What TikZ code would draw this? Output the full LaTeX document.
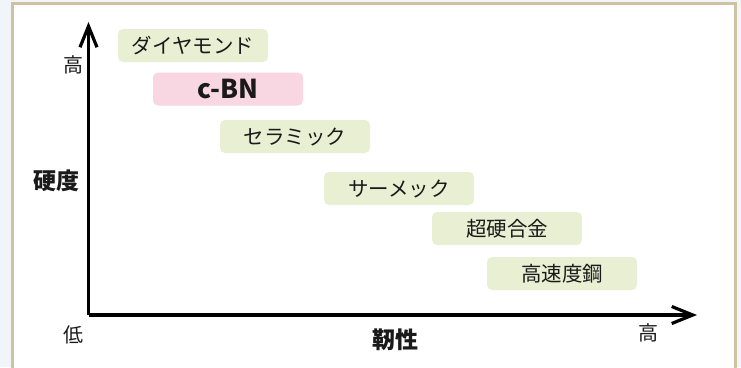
\documentclass[tikz,border=0pt]{standalone}
\usepackage{fontspec}
\setmainfont{Noto Sans CJK JP}
\usetikzlibrary{arrows.meta}
\definecolor{bgout}{HTML}{F1F4F9}
\definecolor{frametan}{HTML}{CFC2A3}
\definecolor{boxgreen}{HTML}{E9EFD3}
\definecolor{boxpink}{HTML}{F8D7E3}
\definecolor{txt}{HTML}{1A1A1A}
\tikzset{
  matbox/.style={rounded corners=5pt, fill=boxgreen, minimum width=150pt, minimum height=33pt, inner sep=0pt, text=txt, font=\fontsize{20.5}{22}\selectfont},
  pinkbox/.style={matbox, fill=boxpink, font=\fontsize{26}{28}\selectfont\bfseries},
  ticklbl/.style={text=txt, inner sep=0pt, font=\fontsize{20}{22}\selectfont},
  axislbl/.style={text=txt, inner sep=0pt, font=\fontsize{23}{25}\selectfont\bfseries},
  axisline/.style={line width=3.5pt, -{Straight Barb[length=21pt,width=17pt,line width=3.2pt]}}
}
\begin{document}
\begin{tikzpicture}[x=1pt,y=-1pt]
\useasboundingbox (0,0) rectangle (741,367);
\fill[bgout] (0,0) rectangle (741,367);
\draw[frametan, line width=3pt, fill=white] (12.5,3.5) rectangle (735.5,380);
% boxes
\node[matbox] (dia) at (193,45.5) {ダイヤモンド};
\node[pinkbox] (cbn) at (228,89) {c-BN};
\node[matbox] (cer) at (295,136.5) {セラミック};
\node[matbox] (cmt) at (399,188.5) {サーメック};
\node[matbox] (wc) at (507,228.5) {超硬合金};
\node[matbox] (hss) at (562,273.5) {高速度鋼};
% axes
\coordinate (o) at (88.5,315);
\coordinate (ytip) at (88.5,22);
\coordinate (xtip) at (697,315);
\draw[axisline] (o) -- (ytip);
\draw[axisline] (o) -- (xtip);
% labels
\node[ticklbl] (yhi) at (73,65) {高};
\node[ticklbl] (lo) at (73,335) {低};
\node[ticklbl] (xhi) at (648,333) {高};
\node[axislbl] (ylab) at (56,181) {硬度};
\node[axislbl] (xlab) at (395,340) {靭性};
\end{tikzpicture}
\end{document}
